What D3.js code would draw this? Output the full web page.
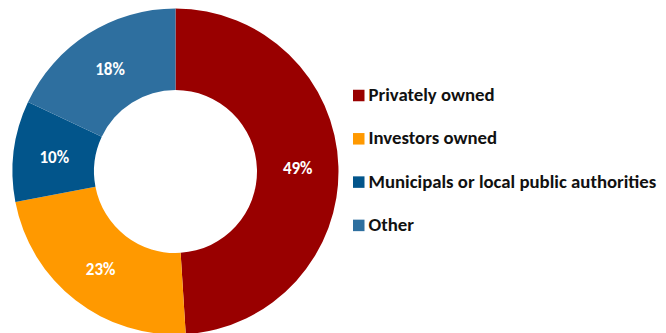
<!DOCTYPE html>
<html>
<head>
<meta charset="utf-8">
<script src="https://cdn.jsdelivr.net/npm/d3@7"></script>
<style>
  html, body { margin: 0; padding: 0; background: #fff; }
  svg { display: block; }
</style>
</head>
<body>
<svg id="chart" width="666" height="333"></svg>
<script>
// Ownership shares (%)
const categories = ["Privately owned", "Investors owned", "Municipals or local public authorities", "Other"];
const values = [49, 23, 10, 18];
const colors = ["#990000", "#FF9900", "#02558B", "#2E6F9F"];

const W = 666, H = 333;
const cx = 175.5, cy = 171.5;
const outerR = 163, innerR = 81.5;
const fontFamily = "Carlito, Lato, 'Open Sans', sans-serif";

const svg = d3.select("#chart");

const pie = d3.pie().value(d => d).sort(null);
const arc = d3.arc().innerRadius(innerR).outerRadius(outerR);
const arcs = pie(values);

const g = svg.append("g").attr("transform", `translate(${cx},${cy})`);

g.selectAll("path.slice")
  .data(arcs)
  .join("path")
  .attr("class", "slice")
  .attr("d", arc)
  .attr("fill", (d, i) => colors[i]);

g.selectAll("text.pct")
  .data(arcs)
  .join("text")
  .attr("class", "pct")
  .attr("transform", d => `translate(${arc.centroid(d)})`)
  .attr("text-anchor", "middle")
  .attr("dy", "0.38em")
  .attr("fill", "#ffffff")
  .attr("font-family", fontFamily)
  .attr("font-weight", "bold")
  .attr("font-size", 17)
  .text(d => d.data + "%");

// Legend
const legend = svg.append("g").attr("transform", "translate(353,95.5)");
const rowStep = 43.3;
const rows = legend.selectAll("g.row")
  .data(categories)
  .join("g")
  .attr("class", "row")
  .attr("transform", (d, i) => `translate(0,${i * rowStep})`);

rows.append("rect")
  .attr("x", 0).attr("y", -5.75)
  .attr("width", 11.5).attr("height", 11.5)
  .attr("fill", (d, i) => colors[i]);

rows.append("text")
  .attr("x", 15.5)
  .attr("dy", 5.5)
  .attr("fill", "#111111")
  .attr("font-family", fontFamily)
  .attr("font-weight", "bold")
  .attr("font-size", 18.8)
  .text(d => d);
</script>
</body>
</html>
